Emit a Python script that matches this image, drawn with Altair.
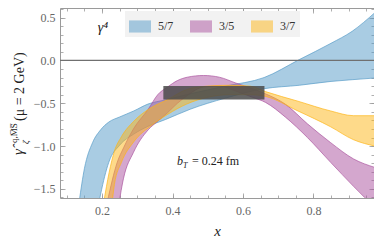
import altair as alt
import pandas as pd

# ---- data ----
series_names = ["5/7", "3/5", "3/7"]
series_colors = ["#5499c7", "#a9509d", "#fdb515"]

x_blue = [0.135, 0.15, 0.173, 0.196, 0.219, 0.25, 0.29, 0.33, 0.38, 0.45, 0.55, 0.66, 0.76, 0.85, 0.91, 0.975]
blue_hi = [-1.65, -1.26, -0.96, -0.81, -0.72, -0.66, -0.59, -0.51, -0.46, -0.39, -0.30, -0.20, 0.01, 0.20, 0.34, 0.56]
blue_lo = [-3.2, -2.8, -2.1, -1.56, -1.19, -0.99, -0.86, -0.77, -0.69, -0.57, -0.44, -0.33, -0.29, -0.245, -0.225, -0.205]

x_purple = [0.215, 0.243, 0.261, 0.289, 0.331, 0.358, 0.386, 0.414, 0.442, 0.488, 0.533, 0.581, 0.627, 0.664, 0.72, 0.783, 0.849, 0.914, 0.975]
purple_hi = [-1.65, -1.19, -1.02, -0.80, -0.57, -0.40, -0.31, -0.235, -0.196, -0.176, -0.196, -0.266, -0.33, -0.39, -0.51, -0.74, -0.96, -1.15, -1.25]
purple_lo = [-2.6, -1.8, -1.375, -1.075, -0.81, -0.71, -0.61, -0.50, -0.41, -0.31, -0.30, -0.36, -0.43, -0.49, -0.66, -0.90, -1.19, -1.47, -1.72]

x_yellow = [0.205, 0.22, 0.235, 0.255, 0.29, 0.34, 0.386, 0.44, 0.5, 0.56, 0.62, 0.664, 0.756, 0.849, 0.914, 0.975]
yellow_hi = [-1.65, -1.31, -1.06, -0.89, -0.71, -0.55, -0.457, -0.34, -0.30, -0.29, -0.30, -0.364, -0.476, -0.59, -0.645, -0.645]
yellow_lo = [-2.4, -2.0, -1.45, -1.19, -0.95, -0.76, -0.63, -0.51, -0.43, -0.40, -0.40, -0.42, -0.59, -0.775, -0.926, -1.0]

box_x = [0.374, 0.661]
box_y = [-0.30, -0.457]

x_major = [0.2, 0.4, 0.6, 0.8]
x_minor = [0.1, 0.15, 0.2, 0.25, 0.3, 0.35, 0.4, 0.45, 0.5, 0.55, 0.6, 0.65, 0.7, 0.75, 0.8, 0.85, 0.9, 0.95]
y_major = [-1.5, -1.0, -0.5, 0.0, 0.5]
y_minor = [-1.6, -1.5, -1.4, -1.3, -1.2, -1.1, -1.0, -0.9, -0.8, -0.7, -0.6, -0.5, -0.4, -0.3,
           -0.2, -0.1, 0.0, 0.1, 0.2, 0.3, 0.4, 0.5, 0.6]

# ---- tables ----
frames = []
for name, xs_, lo, hi in [("5/7", x_blue, blue_lo, blue_hi),
                          ("3/5", x_purple, purple_lo, purple_hi),
                          ("3/7", x_yellow, yellow_lo, yellow_hi)]:
    frames.append(pd.DataFrame({"x": xs_, "lo": lo, "hi": hi, "series": name}))
bands = pd.concat(frames, ignore_index=True)
box_df = pd.DataFrame({"x1": [box_x[0]], "x2": [box_x[1]], "y1": [box_y[0]], "y2": [box_y[1]]})
zero_df = pd.DataFrame({"y": [0.0]})

SERIF = "'Liberation Serif', 'DejaVu Serif', serif"
TICK = "#9a9a9a"

xscale = alt.Scale(domain=[0.0806, 0.972], nice=False, zero=False)
yscale = alt.Scale(domain=[-1.606, 0.612], nice=False, zero=False)

legend = alt.Legend(orient="none", legendX=65, legendY=3, direction="horizontal", columns=3,
                    title=None, fillColor="#f2f2f2", padding=4,
                    symbolType="M-1,-0.55L1,-0.55L1,0.55L-1,0.55Z", symbolSize=484,
                    symbolStrokeWidth=0, symbolOpacity=0.5,
                    labelFont=SERIF, labelFontSize=12, labelColor="#333333",
                    labelOffset=7, columnPadding=16)
color = alt.Color("series:N", scale=alt.Scale(domain=series_names, range=series_colors), legend=legend)


def tick_axis(orient, values, size, labels=False, **kw):
    return alt.Axis(orient=orient, values=values, tickSize=size, offset=-size, labels=labels,
                    domain=False, grid=False, ticks=True, tickColor=TICK, tickWidth=0.8, **kw)


ax_x_bottom = tick_axis("bottom", x_major, 5, labels=True, format=".1f", labelPadding=7,
                        title="x", titleFont=SERIF, titleFontStyle="italic", titleFontSize=15,
                        titleFontWeight="normal", titleColor="#222222", titlePadding=7)
ax_y_left = tick_axis("left", y_major, 5, labels=True, format=".1f", labelPadding=5, title=None)
ax_x_top = tick_axis("top", x_major, 5, title=None)
ax_y_right = tick_axis("right", y_major, 5, title=None)
ax_x_bottom_m = tick_axis("bottom", x_minor, 3, title=None)
ax_y_left_m = tick_axis("left", y_minor, 3, title=None)
ax_x_top_m = tick_axis("top", x_minor, 3, title=None)
ax_y_right_m = tick_axis("right", y_minor, 3, title=None)


def band(name, col, xaxis, yaxis):
    return alt.Chart(bands).transform_filter(alt.datum.series == name).mark_area(
        interpolate="monotone", fillOpacity=0.5, stroke=col, strokeWidth=0.9,
        strokeOpacity=0.75, clip=True
    ).encode(
        x=alt.X("x:Q", scale=xscale, axis=xaxis),
        y=alt.Y("lo:Q", scale=yscale, axis=yaxis),
        y2="hi:Q",
        color=color,
    )


blue = band("5/7", series_colors[0], ax_x_bottom, ax_y_left)
purple = band("3/5", series_colors[1], ax_x_top, ax_y_right)
yellow = band("3/7", series_colors[2], ax_x_bottom_m, ax_y_left_m)

box = alt.Chart(box_df).mark_rect(color="#4a4a4a", opacity=0.85).encode(
    x=alt.X("x1:Q", scale=xscale, axis=ax_x_top_m), x2="x2:Q",
    y=alt.Y("y1:Q", scale=yscale, axis=ax_y_right_m), y2="y2:Q",
)

zero = alt.Chart(zero_df).mark_rule(color="#707070", strokeWidth=1.3).encode(
    y=alt.Y("y:Q", scale=yscale, axis=None)
)


def label(text, x, y, size, style="normal", align="left", angle=0, color_="#222222"):
    kw = dict(align=align, baseline="alphabetic", font=SERIF, fontSize=size,
              fontStyle=style, color=color_)
    if angle:
        kw["angle"] = angle
    return alt.Chart(pd.DataFrame({"t": [text]})).mark_text(**kw).encode(
        x=alt.value(x), y=alt.value(y), text="t:N")


texts = [
    label("γ⁴", 43, 24, 14, style="italic", align="center"),
    label("b", 117, 157, 12, style="italic"),
    label("T", 123, 160, 8, style="italic"),
    label("= 0.24 fm", 132, 157, 12),
    # y-axis title pieces (rotated)
    label("γ̂", -37, 147, 15, style="italic", angle=270),
    label("ζ", -31, 136, 9, style="italic", angle=270),
    label("q,M̅S̅", -43, 135, 9, angle=270),
    label("(μ = 2 GeV)", -36, 113, 14, angle=270),
]

chart = alt.layer(blue, purple, yellow, box, zero, *texts).resolve_axis(
    x="independent", y="independent"
).properties(
    width=314, height=190,
    autosize=alt.AutoSizeParams(type="none"),
    padding={"left": 52, "top": 0, "right": 0, "bottom": 41},
).configure_view(
    stroke="#9a9a9a", strokeWidth=1
).configure_axis(
    labelFont=SERIF, labelFontSize=12, labelColor="#666666"
)

chart.save("out.html", embed_options={"renderer": "svg", "actions": False})
